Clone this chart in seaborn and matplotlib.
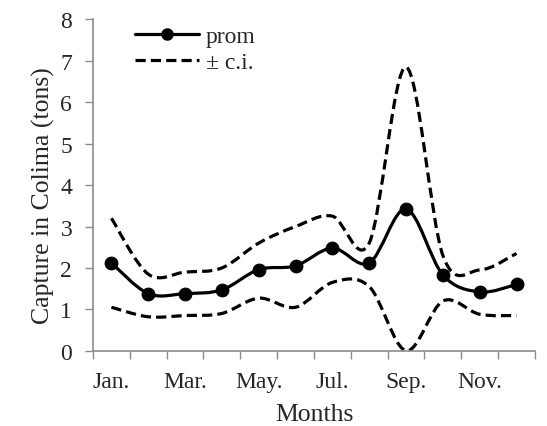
import numpy as np
import pandas as pd
import matplotlib
matplotlib.use("Agg")
import matplotlib.pyplot as plt
from matplotlib.path import Path
from matplotlib.patches import PathPatch
from matplotlib.lines import Line2D
import seaborn as sns

months = ["Jan.", "Feb.", "Mar.", "Apr.", "May.", "Jun.", "Jul.", "Aug.", "Sep.", "Oct.", "Nov.", "Dec."]
prom = [2.12, 1.38, 1.38, 1.47, 1.96, 2.05, 2.48, 2.12, 3.42, 1.83, 1.42, 1.60]
ci_upper = [3.20, 1.85, 1.90, 2.00, 2.60, 3.00, 3.25, 2.60, 6.85, 2.30, 1.95, 2.35]
ci_lower = [1.05, 0.82, 0.85, 0.90, 1.27, 1.05, 1.65, 1.55, 0.00, 1.20, 0.88, 0.85]
tick_labels = ["Jan.", "Mar.", "May.", "Jul.", "Sep.", "Nov."]

sns.set_style("white")
plt.rcParams["font.family"] = ["Liberation Serif", "DejaVu Serif"]

FS = 17
TXT = "#262626"
AX = "#8c8c8c"

fig = plt.figure(figsize=(5.47, 4.27), dpi=100)
ax = fig.add_axes([0.170, 0.1763, 0.808, 0.7757])

x = np.arange(len(months), dtype=float)


def smooth_path(xs, ys):
    pts = np.column_stack([xs, ys])
    n = len(pts)
    verts = [pts[0]]
    codes = [Path.MOVETO]
    for i in range(n - 1):
        p0 = pts[i - 1] if i > 0 else pts[i]
        p1 = pts[i]
        p2 = pts[i + 1]
        p3 = pts[i + 2] if i + 2 < n else pts[i + 1]
        c1 = p1 + (p2 - p0) / 6.0
        c2 = p2 - (p3 - p1) / 6.0
        verts += [c1, c2, p2]
        codes += [Path.CURVE4] * 3
    return Path(verts, codes)


LW = 2.3
dash = (0, (3.2, 1.6))
for series in (ci_upper, ci_lower):
    ax.add_patch(PathPatch(smooth_path(x, series), fill=False, edgecolor="black",
                           lw=LW, linestyle=dash, capstyle="butt", zorder=2))
ax.add_patch(PathPatch(smooth_path(x, prom), fill=False, edgecolor="black",
                       lw=LW, zorder=3))

df = pd.DataFrame({"x": x, "prom": prom})
sns.scatterplot(data=df, x="x", y="prom", ax=ax, s=85, color="black",
                edgecolor="black", zorder=4, legend=False)

ax.set_xlim(-0.5, len(months) - 0.5)
ax.set_ylim(0, 8)

ax.set_yticks(range(0, 9))
ax.set_yticklabels([str(v) for v in range(0, 9)])
ax.set_xticks(np.arange(-0.5, len(months), 1.0))
ax.set_xticklabels([])
ax.set_xticks(np.arange(0, len(months), 2), minor=True)
ax.set_xticklabels(tick_labels, minor=True)

ax.tick_params(axis="x", which="major", length=6, width=1, color=AX, direction="out", bottom=True)
ax.tick_params(axis="x", which="minor", length=0, pad=14.5, labelsize=FS, labelcolor=TXT, bottom=True)
ax.tick_params(axis="y", which="major", length=6, width=1, color=AX, direction="out",
               pad=9, labelsize=FS, labelcolor=TXT, left=True)

for s in ("top", "right"):
    ax.spines[s].set_visible(False)
for s in ("left", "bottom"):
    ax.spines[s].set_color(AX)
    ax.spines[s].set_linewidth(1.2)

ax.set_xlabel("Months", fontsize=18.5, color=TXT, labelpad=8)
ax.set_ylabel("Capture in Colima (tons)", fontsize=18.5, color=TXT, labelpad=4)
ax.yaxis.label.set_y(0.471)

handles = [
    Line2D([], [], color="black", lw=LW, marker="o", markersize=8),
    Line2D([], [], color="black", lw=LW, linestyle=dash),
]
ax.legend(handles, ["prom", "± c.i."], loc="upper left", bbox_to_anchor=(0.095, 0.982),
          frameon=False, fontsize=FS, handlelength=2.7, handletextpad=0.3,
          labelspacing=0.2, borderpad=0, borderaxespad=0, labelcolor=TXT)

fig.savefig("out.png", dpi=100)
